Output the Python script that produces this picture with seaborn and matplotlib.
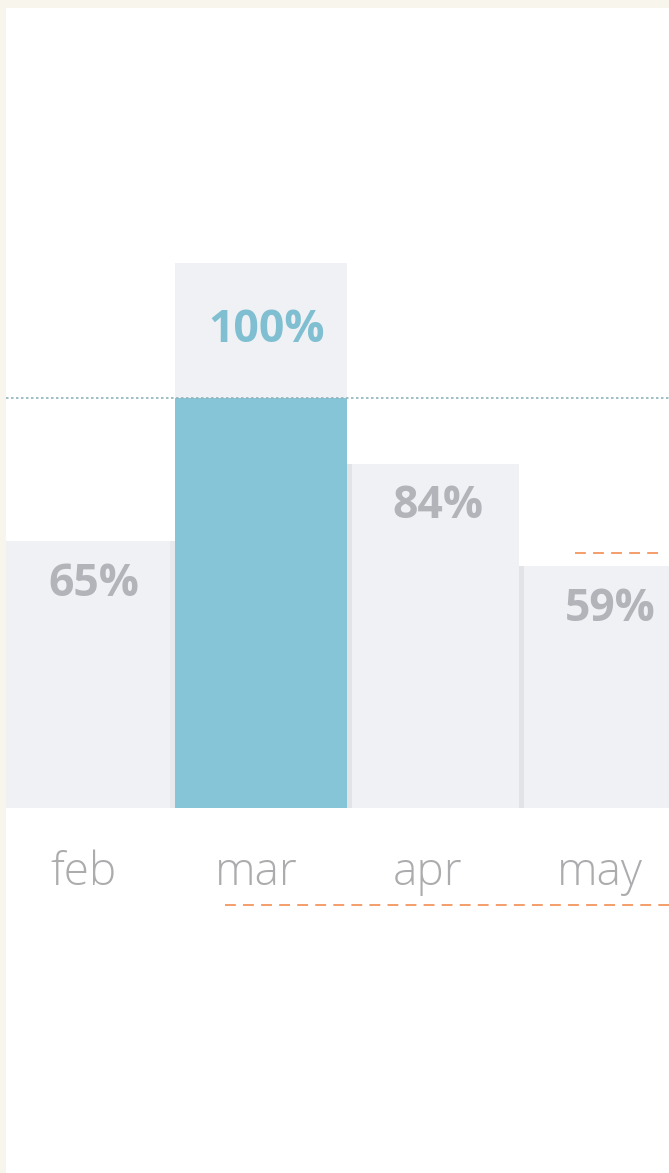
import numpy as np
import pandas as pd
import seaborn as sns
from matplotlib import pyplot as plt

# data
months = ["feb", "mar", "apr", "may"]
values = [65, 100, 84, 59]
highlight = "mar"
track_top = 133  # light backdrop behind the highlighted bar

sns.set_theme(style="white")
plt.rcParams['font.family'] = ['Open Sans', 'DejaVu Sans']

BAR = "#f0f1f4"
BLUE = "#86c5d7"
LABEL = "#b3b4b9"
MONTH = "#acacaf"
ORANGE = "#f3955f"

df = pd.DataFrame({"month": months, "value": values})
colors = {m: (BLUE if m == highlight else BAR) for m in months}

fig = plt.figure(figsize=(6.69, 11.73), dpi=100, facecolor="#f8f6ec")
ax = fig.add_axes([6 / 669, 0, 663 / 669, 1165 / 1173])
ax.set_facecolor("white")

# backdrop for the highlighted month
hi = months.index(highlight)
ax.bar([hi], [track_top], width=1.0, color=BAR, linewidth=0, zorder=0)

sns.barplot(data=df, x="month", y="value", hue="month", palette=colors,
            order=months, width=1.0, dodge=False, legend=False,
            saturation=1, linewidth=0, edgecolor="none", ax=ax, zorder=1)

# faint fold shadows at the bar joins
for i, v in enumerate(values):
    if i > hi:
        ax.bar([i - 0.485], [v], width=0.03, color="#d9dadd", alpha=0.6,
               linewidth=0, zorder=2)
    elif i < hi:
        ax.bar([i + 0.485], [v], width=0.03, color="#e2e3e6", alpha=0.5,
               linewidth=0, zorder=2)

# percent labels
for i, (m, v) in enumerate(zip(months, values)):
    if m == highlight:
        y = (v + track_top) / 2
        c = "#7fbfd1"
    else:
        y = v - 10.5
        c = LABEL
    ax.text(i + 0.03, y, f"{v}%", ha="center", va="center", fontsize=32,
            fontweight="bold", color=c, zorder=3)

# month labels
for i, m in enumerate(months):
    ax.text(i - 0.03, -18.8, m, ha="center", va="baseline", fontsize=33,
            fontweight="light", color=MONTH, zorder=3)

# reference line at 100%
ax.axhline(100, color="#8fb4bb", lw=1.2, ls=(0, (1.5, 1.5)), zorder=2)

# orange dashed markers
ax.plot([2.826, 3.32], [62.2, 62.2], color=ORANGE, lw=1.3, ls=(0, (6, 4)), zorder=3)
ax.plot([0.791, 3.372], [-23.7, -23.7], color=ORANGE, lw=1.3, ls=(0, (6, 4)), zorder=3)

ax.set_xlim(-0.483, 3.372)
ax.set_ylim(-89.0, 195.1)
ax.set_xlabel("")
ax.set_ylabel("")
ax.set_xticks([])
ax.set_yticks([])
sns.despine(ax=ax, left=True, bottom=True)

plt.savefig("out.png", dpi=100, facecolor=fig.get_facecolor())
